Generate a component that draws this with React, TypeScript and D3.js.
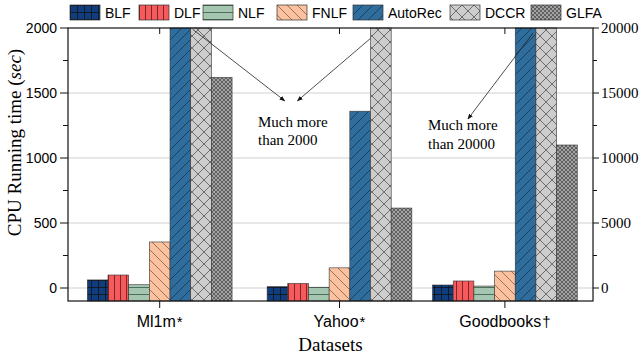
import React from "react";
import * as d3 from "d3";

// datasets and where they sit on the x axis (Goodbooks was nudged left in the original)
const datasets = ["Ml1m", "Yahoo", "Goodbooks"];
const datasetMarks = ["*", "*", "†"];
const datasetPos = [1, 2, 2.92];

const methods = ["BLF", "DLF", "NLF", "FNLF", "AutoRec", "DCCR", "GLFA"];

// CPU time (sec). Ml1m, Yahoo use the left axis; Goodbooks the right axis.
// values above the axis top are off-scale ("much more than ...")
const ml1mTime = [62, 100, 25, 354, 3000, 3000, 1620];
const yahooTime = [10, 35, 6, 155, 1360, 3000, 615];
const goodbooksTime = [230, 540, 150, 1300, 30000, 30000, 11000];

const leftTicks = [0, 500, 1000, 1500, 2000];
const rightTicks = [0, 5000, 10000, 15000, 20000];

const W = 640;
const H = 354;
const margin = { top: 28, right: 47, bottom: 53, left: 68 };

const sans = "'Liberation Sans', Arial, sans-serif";
const serif = "'Liberation Serif', 'Times New Roman', serif";

const patternIds = ["p-blf", "p-dlf", "p-nlf", "p-fnlf", "p-autorec", "p-dccr", "p-glfa"];

const Patterns = () => (
  <defs>
    <pattern id="p-blf" patternUnits="userSpaceOnUse" width={7} height={7}>
      <rect width={7} height={7} fill="#0f3d7d" />
      <path d="M0,0.5H7M0.5,0V7" stroke="#111" strokeWidth={0.8} />
    </pattern>
    <pattern id="p-dlf" patternUnits="userSpaceOnUse" width={6} height={6}>
      <rect width={6} height={6} fill="#f65a5c" />
      <path d="M0.5,0V6" stroke="#5a1a1a" strokeWidth={0.8} />
    </pattern>
    <pattern id="p-nlf" patternUnits="userSpaceOnUse" width={7} height={7}>
      <rect width={7} height={7} fill="#a5c6b0" />
      <path d="M0,0.5H7" stroke="#355a45" strokeWidth={0.8} />
    </pattern>
    <pattern id="p-fnlf" patternUnits="userSpaceOnUse" width={10} height={10}>
      <rect width={10} height={10} fill="#fcc19e" />
      <path d="M-1,-1L11,11M-1,9L1,11M9,-1L11,1" stroke="#6b5040" strokeWidth={0.7} />
    </pattern>
    <pattern id="p-autorec" patternUnits="userSpaceOnUse" width={10} height={10}>
      <rect width={10} height={10} fill="#2f6d9c" />
      <path d="M-1,11L11,-1M-1,1L1,-1M9,11L11,9" stroke="#142e44" strokeWidth={0.7} />
    </pattern>
    <pattern id="p-dccr" patternUnits="userSpaceOnUse" width={12} height={12}>
      <rect width={12} height={12} fill="#cdcdcd" />
      <path d="M0,0L12,12M0,12L12,0" stroke="#444" strokeWidth={0.7} />
    </pattern>
    <pattern id="p-glfa" patternUnits="userSpaceOnUse" width={4} height={4}>
      <rect width={4} height={4} fill="#a3a3a3" />
      <path d="M0,0L4,4M0,4L4,0" stroke="#333" strokeWidth={0.6} />
    </pattern>
    <marker id="arrow" viewBox="0 0 10 10" refX={9} refY={5} markerWidth={7} markerHeight={7} orient="auto">
      <path d="M0,1L10,5L0,9Z" fill="#111" />
    </marker>
  </defs>
);

export default function App() {
  const x = d3
    .scaleLinear()
    .domain([0.49, 3.41])
    .range([margin.left, W - margin.right]);
  const yL = d3
    .scaleLinear()
    .domain([-100, 2000])
    .range([H - margin.bottom, margin.top])
    .clamp(true);
  const yR = d3
    .scaleLinear()
    .domain([-1000, 20000])
    .range([H - margin.bottom, margin.top])
    .clamp(true);

  const barW = 0.115;
  const series = [
    { values: ml1mTime, y: yL },
    { values: yahooTime, y: yL },
    { values: goodbooksTime, y: yR },
  ];

  const bottom = H - margin.bottom;
  const left = margin.left;
  const right = W - margin.right;
  const top = margin.top;

  const leftMinor = d3.range(250, 2000, 500);
  const rightMinor = d3.range(2500, 20000, 5000);

  // legend layout
  const legendX = [70, 139, 203, 277, 353, 450, 531];

  return (
    <svg width={W} height={H} style={{ display: "block", position: "absolute", left: 0, top: 0 }}>
      <Patterns />
      <rect width={W} height={H} fill="#fff" />

      {/* grid */}
      {leftTicks.slice(0, -1).map((t) => (
        <line key={t} x1={left} x2={right} y1={yL(t)} y2={yL(t)} stroke="#cfcfcf" strokeWidth={1} />
      ))}

      {/* bars */}
      {series.map((s, gi) =>
        s.values.map((v, mi) => {
          const x0 = x(datasetPos[gi] + (mi - 3.5) * barW);
          const x1 = x(datasetPos[gi] + (mi - 2.5) * barW);
          const yt = s.y(v);
          return (
            <rect
              key={`${gi}-${mi}`}
              x={x0}
              y={yt}
              width={x1 - x0}
              height={bottom - yt}
              fill={`url(#${patternIds[mi]})`}
              stroke="#333"
              strokeWidth={0.6}
            />
          );
        })
      )}

      {/* frame */}
      <rect x={left} y={top} width={right - left} height={bottom - top} fill="none" stroke="#111" strokeWidth={1.2} />

      {/* left axis */}
      {leftTicks.map((t) => (
        <g key={t}>
          <line x1={left - 8} x2={left} y1={yL(t)} y2={yL(t)} stroke="#111" />
          <text x={left - 11} y={yL(t)} dy="0.36em" textAnchor="end" fontFamily={sans} fontSize={14}>
            {t}
          </text>
        </g>
      ))}
      {leftMinor.map((t) => (
        <line key={t} x1={left - 5} x2={left} y1={yL(t)} y2={yL(t)} stroke="#111" />
      ))}

      {/* right axis */}
      {rightTicks.map((t) => (
        <g key={t}>
          <line x1={right} x2={right + 6} y1={yR(t)} y2={yR(t)} stroke="#111" />
          <text x={right + 8} y={yR(t)} dy="0.35em" fontFamily={serif} fontSize={15}>
            {t}
          </text>
        </g>
      ))}
      {rightMinor.map((t) => (
        <line key={t} x1={right} x2={right + 4} y1={yR(t)} y2={yR(t)} stroke="#111" />
      ))}

      {/* category ticks and labels */}
      {datasets.map((d, i) => (
        <g key={d}>
          <line x1={x(datasetPos[i])} x2={x(datasetPos[i])} y1={bottom} y2={bottom + 7} stroke="#111" />
          <line x1={x(datasetPos[i])} x2={x(datasetPos[i])} y1={top} y2={top + 6} stroke="#111" />
          <text x={x(datasetPos[i])} y={bottom + 26} textAnchor="middle" fontFamily={sans} fontSize={16}>
            {d}
            <tspan fontSize={15} dx={1}>{datasetMarks[i]}</tspan>
          </text>
        </g>
      ))}

      {/* axis titles */}
      <text
        transform={`translate(21,${(top + bottom) / 2 - 22}) rotate(-90)`}
        textAnchor="middle"
        fontFamily={serif}
        fontSize={19}
      >
        CPU Running time (<tspan fontStyle="italic">sec</tspan>)
      </text>
      <text x={(left + right) / 2} y={H - 3} textAnchor="middle" fontFamily={serif} fontSize={19}>
        Datasets
      </text>

      {/* annotations */}
      <line x1={x(1) + 33} x2={x(1) + 125} y1={yL(1990)} y2={yL(1440)} stroke="#222" strokeWidth={0.8} markerEnd="url(#arrow)" />
      <line x1={x(2) + 31} x2={x(2) - 42} y1={yL(1920)} y2={yL(1440)} stroke="#222" strokeWidth={0.8} markerEnd="url(#arrow)" />
      <text fontFamily={serif} fontSize={15} x={258} y={127}>
        <tspan x={258}>Much more</tspan>
        <tspan x={258} dy={18}>than 2000</tspan>
      </text>
      <line x1={x(2.92) + 28} x2={x(2.92) - 37} y1={yR(19600)} y2={yR(13000)} stroke="#222" strokeWidth={0.8} markerEnd="url(#arrow)" />
      <text fontFamily={serif} fontSize={15} x={428} y={130}>
        <tspan x={428}>Much more</tspan>
        <tspan x={428} dy={19}>than 20000</tspan>
      </text>

      {/* legend */}
      {methods.map((m, i) => (
        <g key={m} transform={`translate(${legendX[i]},5)`}>
          <rect width={30} height={15} fill={`url(#${patternIds[i]})`} stroke="#333" strokeWidth={0.7} />
          <text x={35} y={12.5} fontFamily={sans} fontSize={14}>
            {m}
          </text>
        </g>
      ))}
    </svg>
  );
}
